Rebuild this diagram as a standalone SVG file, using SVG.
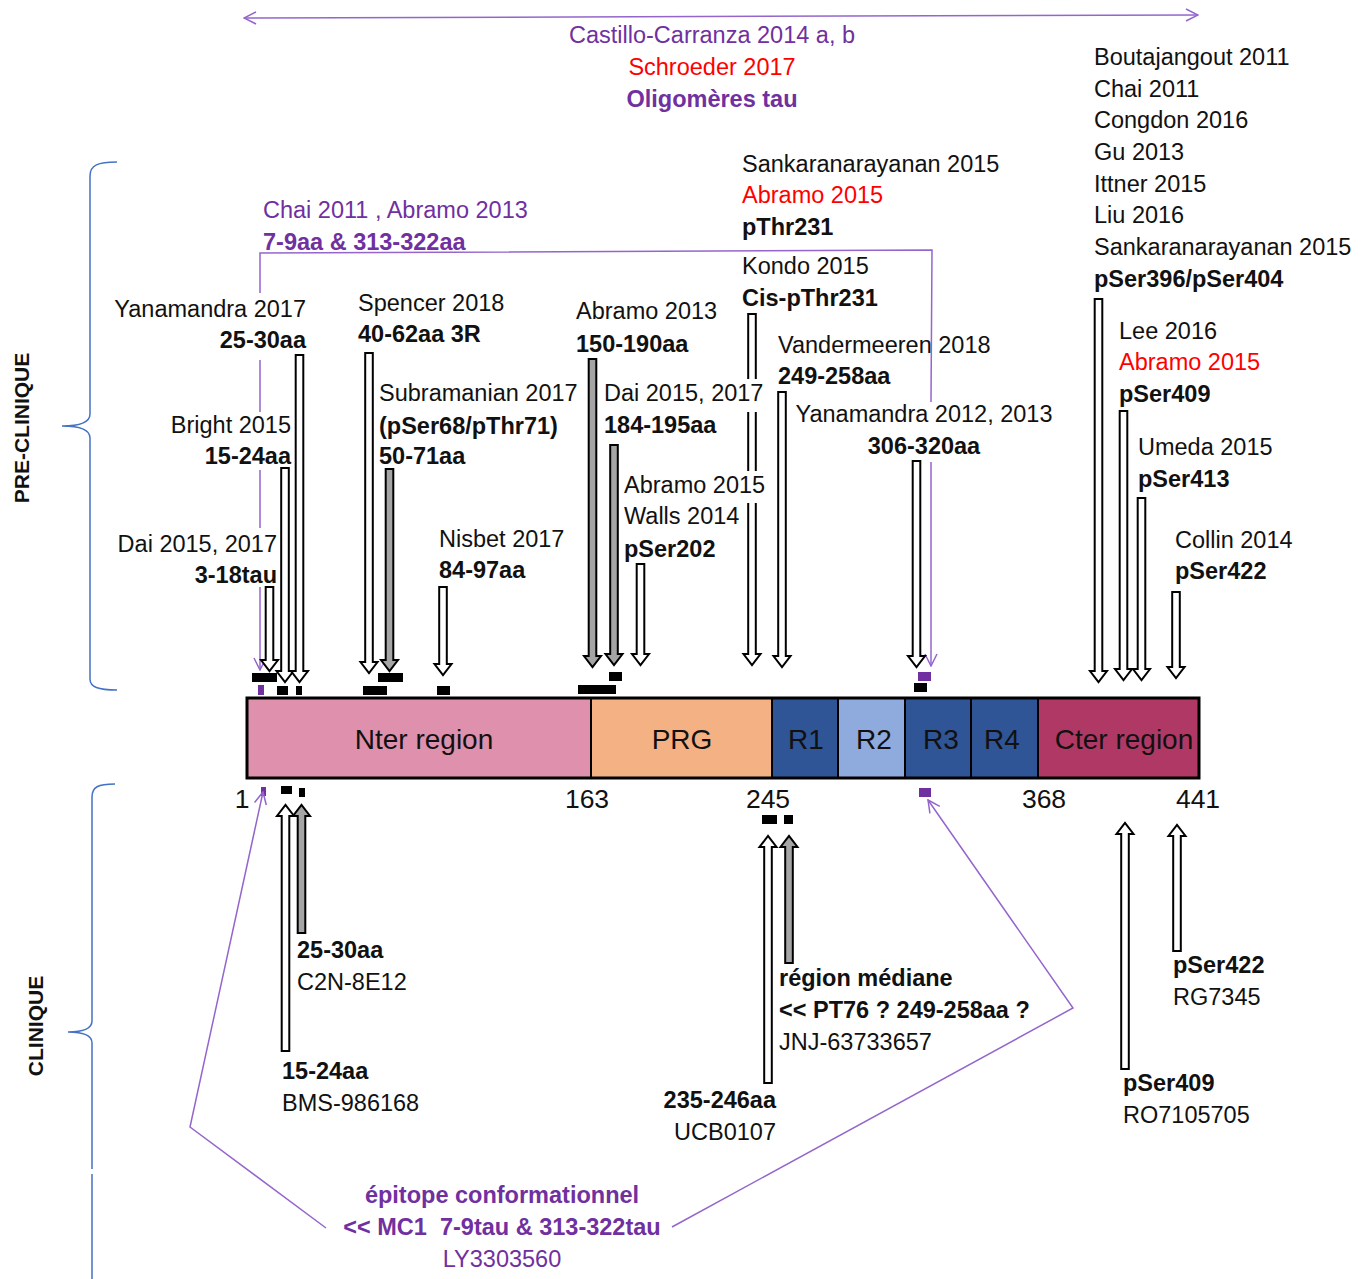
<svg xmlns="http://www.w3.org/2000/svg" width="1367" height="1279" viewBox="0 0 1367 1279">
<style>
text{font-family:"Liberation Sans",Arial,sans-serif;font-size:23.5px;fill:#111}
.b{font-weight:bold}
.p{fill:#7030A0}
.r{fill:#FF0000}
.e{text-anchor:end}
.m{text-anchor:middle}
.big{font-size:28px}
.num{font-size:26.5px}
.side{font-size:21px;font-weight:bold}
.arr{fill:#fff;stroke:#000;stroke-width:2;stroke-linejoin:miter}
.arrg{fill:#A5A5A5;stroke:#000;stroke-width:2;stroke-linejoin:miter}
.pl{fill:none;stroke:#9466CC;stroke-width:1.5}
.brace{fill:none;stroke:#4472C4;stroke-width:1.5}
.seg{stroke:#000;stroke-width:2}
.tk{fill:#000}
.tp{fill:#7030A0}
</style>
<defs>
<marker id="oa" viewBox="0 0 14 14" refX="13" refY="7" markerWidth="14" markerHeight="14" markerUnits="userSpaceOnUse" orient="auto-start-reverse">
<path d="M1,1 L13,7 L1,13" fill="none" stroke="#9466CC" stroke-width="1.5"/>
</marker>
</defs>

<g id="braces">
<path class="brace" d="M117,162 C98,162 90,165 90,176 L90,414 C90,422 80,426 62,426 C80,426 90,430 90,438 L90,679 C90,687 98,690 117,690"/>
<path class="brace" d="M115,784 C98,784 92,787 92,797 L92,1021 C92,1028 84,1032 68,1032 C84,1032 92,1036 92,1043 L92,1169 M92,1174 L92,1279"/>
<text class="side" transform="translate(29,428) rotate(-90)" text-anchor="middle">PRE-CLINIQUE</text>
<text class="side" transform="translate(43,1026) rotate(-90)" text-anchor="middle">CLINIQUE</text>
</g>

<g id="protein">
<rect x="247" y="698" width="344" height="80" fill="#DE90AC" class="seg"/>
<rect x="591" y="698" width="181" height="80" fill="#F4B183" class="seg"/>
<rect x="772" y="698" width="66" height="80" fill="#2F5597" class="seg"/>
<rect x="838" y="698" width="67" height="80" fill="#8FAADC" class="seg"/>
<rect x="905" y="698" width="66" height="80" fill="#2F5597" class="seg"/>
<rect x="971" y="698" width="67" height="80" fill="#2F5597" class="seg"/>
<rect x="1038" y="698" width="161" height="80" fill="#AF3964" class="seg"/>
<rect x="247" y="698" width="952" height="80" fill="none" stroke="#000" stroke-width="3"/>
<text class="big m" x="424" y="749">Nter region</text>
<text class="big m" x="682" y="749">PRG</text>
<text class="big m" x="806" y="749">R1</text>
<text class="big m" x="874" y="749">R2</text>
<text class="big m" x="941" y="749">R3</text>
<text class="big m" x="1002" y="749">R4</text>
<text class="big m" x="1124" y="749">Cter region</text>
<text class="num m" x="242" y="808">1</text>
<text class="num m" x="587" y="808">163</text>
<text class="num m" x="768" y="808">245</text>
<text class="num m" x="1044" y="808">368</text>
<text class="num m" x="1198" y="808">441</text>
</g>

<g id="ticks">
<rect class="tk" x="252" y="673" width="25" height="9"/>
<rect class="tp" x="258" y="685" width="6" height="10"/>
<rect class="tk" x="277" y="686" width="11" height="9"/>
<rect class="tk" x="296" y="686" width="6" height="9"/>
<rect class="tk" x="363" y="686" width="24" height="9"/>
<rect class="tk" x="378" y="673" width="25" height="9"/>
<rect class="tk" x="437" y="686" width="13" height="9"/>
<rect class="tk" x="578" y="685" width="38" height="9"/>
<rect class="tk" x="609" y="672" width="13" height="9"/>
<rect class="tk" x="914" y="683" width="13" height="9"/>
<rect class="tp" x="918" y="672" width="13" height="9"/>
<rect class="tp" x="261" y="787" width="5" height="9"/>
<rect class="tk" x="281" y="786" width="11" height="8"/>
<rect class="tk" x="299" y="788" width="6" height="9"/>
<rect class="tk" x="762" y="815" width="15" height="9"/>
<rect class="tk" x="784" y="815" width="9" height="9"/>
<rect class="tp" x="919" y="788" width="12" height="9"/>
</g>

<g id="connectors">
<path class="pl" d="M244,18 L1198,15" marker-start="url(#oa)" marker-end="url(#oa)"/>
<path class="pl" d="M260,293 L260,253 L932,250 L931,402"/>
<path class="pl" d="M260,360 L260,412 M260,470 L260,528"/>
<path class="pl" d="M260,587 L260,670" marker-end="url(#oa)"/>
<path class="pl" d="M931,462 L931,666" marker-end="url(#oa)"/>
<path class="pl" d="M326,1228 L190,1127 L263,792" marker-end="url(#oa)"/>
<path class="pl" d="M672,1227 L1073,1008 L928,800" marker-end="url(#oa)"/>

<polygon class="arr" points="265.7,587 273.3,587 273.3,660 278,660 269.5,671 261,660 265.7,660"/>
<polygon class="arr" points="281.2,468 288.8,468 288.8,671 293.5,671 285,682 276.5,671 281.2,671"/>
<polygon class="arr" points="295.7,355 303.3,355 303.3,671 308,671 299.5,682 291,671 295.7,671"/>
<polygon class="arr" points="365.2,353 372.8,353 372.8,662 377.5,662 369,673 360.5,662 365.2,662"/>
<polygon class="arrg" points="385.7,469 393.3,469 393.3,660 398,660 389.5,671 381,660 385.7,660"/>
<polygon class="arr" points="439.2,587 446.8,587 446.8,664 451.5,664 443,675 434.5,664 439.2,664"/>
<polygon class="arrg" points="588.7,359 596.3,359 596.3,656 601,656 592.5,667 584,656 588.7,656"/>
<polygon class="arrg" points="610.2,445 617.8,445 617.8,654 622.5,654 614,665 605.5,654 610.2,654"/>
<polygon class="arr" points="636.7,564 644.3,564 644.3,654 649,654 640.5,665 632,654 636.7,654"/>
<polygon class="arr" points="748.2,314 755.8,314 755.8,654 760.5,654 752,665 743.5,654 748.2,654"/>
<polygon class="arr" points="778.2,392 785.8,392 785.8,656 790.5,656 782,667 773.5,656 778.2,656"/>
<polygon class="arr" points="912.7,461 920.3,461 920.3,656 925,656 916.5,667 908,656 912.7,656"/>
<polygon class="arr" points="1094.7,299 1102.3,299 1102.3,671 1107,671 1098.5,682 1090,671 1094.7,671"/>
<polygon class="arr" points="1119.7,411 1127.3,411 1127.3,669 1132,669 1123.5,680 1115,669 1119.7,669"/>
<polygon class="arr" points="1137.7,498 1145.3,498 1145.3,669 1150,669 1141.5,680 1133,669 1137.7,669"/>
<polygon class="arr" points="1172.2,592 1179.8,592 1179.8,667 1184.5,667 1176,678 1167.5,667 1172.2,667"/>

<polygon class="arr" points="281.7,1051 289.3,1051 289.3,816 294,816 285.5,805 277,816 281.7,816"/>
<polygon class="arrg" points="297.7,933 305.3,933 305.3,816 310,816 301.5,805 293,816 297.7,816"/>
<polygon class="arr" points="764.2,1083 771.8,1083 771.8,847 776.5,847 768,836 759.5,847 764.2,847"/>
<polygon class="arrg" points="785.2,963 792.8,963 792.8,847 797.5,847 789,836 780.5,847 785.2,847"/>
<polygon class="arr" points="1121.2,1069 1128.8,1069 1128.8,834 1133.5,834 1125,823 1116.5,834 1121.2,834"/>
<polygon class="arr" points="1173.2,951 1180.8,951 1180.8,836 1185.5,836 1177,825 1168.5,836 1173.2,836"/>
<rect x="745" y="379" width="14" height="33" fill="#fff"/>
<rect x="745" y="471" width="14" height="32" fill="#fff"/>
</g>

<g id="oligomeres">
<text class="p m" x="712" y="43">Castillo-Carranza 2014 a, b</text>
<text class="r m" x="712" y="75">Schroeder 2017</text>
<text class="p b m" x="712" y="107">Oligomères tau</text>
</g>
<g id="chai-abramo">
<text class="p" x="263" y="218">Chai 2011 , Abramo 2013</text>
<text class="p b" x="263" y="250">7-9aa &amp; 313-322aa</text>
</g>
<g id="yanamandra2017">
<text class="e" x="306" y="317">Yanamandra 2017</text>
<text class="b e" x="306" y="348">25-30aa</text>
</g>
<g id="bright">
<text class="e" x="291" y="433">Bright 2015</text>
<text class="b e" x="291" y="464">15-24aa</text>
</g>
<g id="dai-n">
<text class="e" x="277" y="552">Dai 2015, 2017</text>
<text class="b e" x="277" y="583">3-18tau</text>
</g>
<g id="spencer">
<text x="358" y="311">Spencer 2018</text>
<text class="b" x="358" y="342">40-62aa 3R</text>
</g>
<g id="subramanian">
<text x="379" y="401">Subramanian 2017</text>
<text class="b" x="379" y="434">(pSer68/pThr71)</text>
<text class="b" x="379" y="464">50-71aa</text>
</g>
<g id="nisbet">
<text x="439" y="547">Nisbet 2017</text>
<text class="b" x="439" y="578">84-97aa</text>
</g>
<g id="abramo2013">
<text x="576" y="319">Abramo 2013</text>
<text class="b" x="576" y="352">150-190aa</text>
</g>
<g id="dai-prg">
<text x="604" y="401">Dai 2015, 2017</text>
<text class="b" x="604" y="433">184-195aa</text>
</g>
<g id="pser202">
<text x="624" y="493">Abramo 2015</text>
<text x="624" y="524">Walls 2014</text>
<text class="b" x="624" y="557">pSer202</text>
</g>
<g id="pthr231">
<text x="742" y="172">Sankaranarayanan 2015</text>
<text class="r" x="742" y="203">Abramo 2015</text>
<text class="b" x="742" y="235">pThr231</text>
</g>
<g id="kondo">
<text x="742" y="274">Kondo 2015</text>
<text class="b" x="742" y="306">Cis-pThr231</text>
</g>
<g id="vandermeeren">
<text x="778" y="353">Vandermeeren 2018</text>
<text class="b" x="778" y="384">249-258aa</text>
</g>
<g id="yanamandra2012">
<text class="m" x="924" y="422">Yanamandra 2012, 2013</text>
<text class="b m" x="924" y="454">306-320aa</text>
</g>
<g id="pser396">
<text x="1094" y="65">Boutajangout 2011</text>
<text x="1094" y="97">Chai 2011</text>
<text x="1094" y="128">Congdon 2016</text>
<text x="1094" y="160">Gu 2013</text>
<text x="1094" y="192">Ittner 2015</text>
<text x="1094" y="223">Liu 2016</text>
<text x="1094" y="255">Sankaranarayanan 2015</text>
<text class="b" x="1094" y="287">pSer396/pSer404</text>
</g>
<g id="pser409-pre">
<text x="1119" y="339">Lee 2016</text>
<text class="r" x="1119" y="370">Abramo 2015</text>
<text class="b" x="1119" y="402">pSer409</text>
</g>
<g id="umeda">
<text x="1138" y="455">Umeda 2015</text>
<text class="b" x="1138" y="487">pSer413</text>
</g>
<g id="collin">
<text x="1175" y="548">Collin 2014</text>
<text class="b" x="1175" y="579">pSer422</text>
</g>

<g id="c2n">
<text class="b" x="297" y="958">25-30aa</text>
<text x="297" y="990">C2N-8E12</text>
</g>
<g id="bms">
<text class="b" x="282" y="1079">15-24aa</text>
<text x="282" y="1111">BMS-986168</text>
</g>
<g id="jnj">
<text class="b" x="779" y="986">région médiane</text>
<text class="b" x="779" y="1018">&lt;&lt; PT76 ? 249-258aa ?</text>
<text x="779" y="1050">JNJ-63733657</text>
</g>
<g id="ucb">
<text class="b e" x="776" y="1108">235-246aa</text>
<text class="e" x="776" y="1140">UCB0107</text>
</g>
<g id="rg7345">
<text class="b" x="1173" y="973">pSer422</text>
<text x="1173" y="1005">RG7345</text>
</g>
<g id="ro7105705">
<text class="b" x="1123" y="1091">pSer409</text>
<text x="1123" y="1123">RO7105705</text>
</g>
<g id="mc1">
<text class="p b m" x="502" y="1203">épitope conformationnel</text>
<text class="p b m" x="502" y="1235" xml:space="preserve">&lt;&lt; MC1  7-9tau &amp; 313-322tau</text>
<text class="p m" x="502" y="1267">LY3303560</text>
</g>
</svg>
